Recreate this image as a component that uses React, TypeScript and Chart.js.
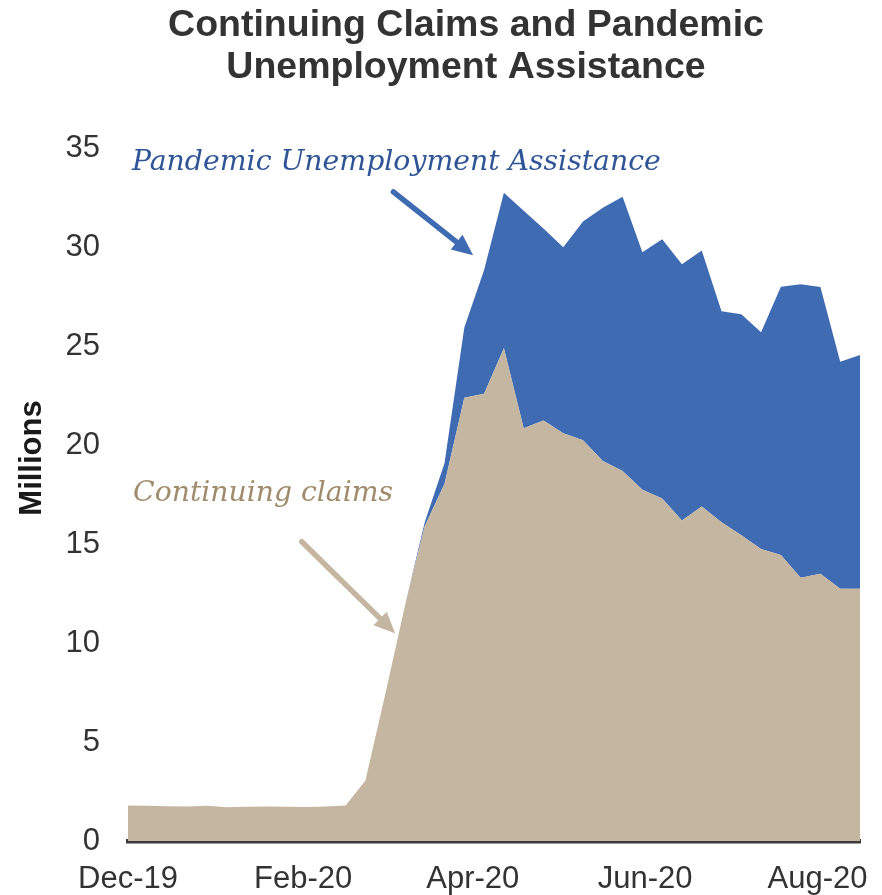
import React, { useEffect, useRef } from 'react';
import { Chart, registerables } from 'chart.js';

Chart.register(...registerables);

// ---- Data ----
const weekDates: string[] = [
  '2019-12-28', '2020-01-04', '2020-01-11', '2020-01-18', '2020-01-25',
  '2020-02-01', '2020-02-08', '2020-02-15', '2020-02-22', '2020-02-29',
  '2020-03-07', '2020-03-14', '2020-03-21', '2020-03-28', '2020-04-04',
  '2020-04-11', '2020-04-18', '2020-04-25', '2020-05-02', '2020-05-09',
  '2020-05-16', '2020-05-23', '2020-05-30', '2020-06-06', '2020-06-13',
  '2020-06-20', '2020-06-27', '2020-07-04', '2020-07-11', '2020-07-18',
  '2020-07-25', '2020-08-01', '2020-08-08', '2020-08-15', '2020-08-22',
  '2020-08-29', '2020-09-05', '2020-09-12',
];

// Continuing claims, millions
const continuingClaims: number[] = [
  1.8, 1.78, 1.76, 1.74, 1.78, 1.7, 1.73, 1.74, 1.73, 1.72,
  1.74, 1.8, 3.06, 7.4, 11.9, 15.9, 18.05, 22.4, 22.6, 24.9,
  20.85, 21.25, 20.6, 20.25, 19.2, 18.7, 17.75, 17.3, 16.2, 16.9,
  16.1, 15.45, 14.75, 14.45, 13.3, 13.5, 12.75, 12.75,
];

// Pandemic Unemployment Assistance, millions
const pandemicAssistance: number[] = [
  0, 0, 0, 0, 0, 0, 0, 0, 0, 0,
  0, 0, 0, 0, 0, 0.2, 1.05, 3.55, 6.25, 7.85,
  11.0, 9.7, 9.4, 11.05, 12.8, 13.85, 12.0, 13.1, 12.94, 12.94,
  10.67, 11.17, 10.95, 13.56, 14.83, 14.49, 11.47, 11.81,
];

const axisTickDates: string[] = ['2019-12-28', '2020-02-28', '2020-04-28', '2020-06-28', '2020-08-28'];
const axisTickLabels: string[] = ['Dec-19', 'Feb-20', 'Apr-20', 'Jun-20', 'Aug-20'];

const titleLines: string[] = ['Continuing Claims and Pandemic', 'Unemployment Assistance'];
const yAxisTitle = 'Millions';
const puaLabel = 'Pandemic Unemployment Assistance';
const ccLabel = 'Continuing claims';

// ---- Styles ----
const SANS = '"Liberation Sans", Arial, Helvetica, sans-serif';
const SERIF = '"DejaVu Serif", Georgia, serif';
const TAN = '#c5b6a1';
const BLUE = '#3f6bb3';
const TEXT = '#333333';

const DAY = 86400000;
const t0 = Date.parse(weekDates[0]);
const dayOffset = (d: string) => Math.round((Date.parse(d) - t0) / DAY);
const tickDays = axisTickDates.map(dayOffset);
const lastDay = dayOffset(weekDates[weekDates.length - 1]);

function drawArrow(ctx: CanvasRenderingContext2D, x1: number, y1: number, x2: number, y2: number, color: string) {
  const dx = x2 - x1;
  const dy = y2 - y1;
  const len = Math.hypot(dx, dy);
  const ux = dx / len;
  const uy = dy / len;
  const headLen = 21;
  const headHalf = 9.5;
  const bx = x2 - ux * headLen;
  const by = y2 - uy * headLen;
  ctx.save();
  ctx.strokeStyle = color;
  ctx.fillStyle = color;
  ctx.lineWidth = 5.5;
  ctx.lineCap = 'round';
  ctx.beginPath();
  ctx.moveTo(x1, y1);
  ctx.lineTo(bx + ux * 2, by + uy * 2);
  ctx.stroke();
  ctx.beginPath();
  ctx.moveTo(x2, y2);
  ctx.lineTo(bx - uy * headHalf, by + ux * headHalf);
  ctx.lineTo(bx + uy * headHalf, by - ux * headHalf);
  ctx.closePath();
  ctx.fill();
  ctx.restore();
}

function drawFittedText(ctx: CanvasRenderingContext2D, text: string, x: number, y: number, width: number, color: string) {
  ctx.save();
  ctx.font = `italic 30px ${SERIF}`;
  const w = ctx.measureText(text).width;
  const size = (30 * width) / w;
  ctx.font = `italic ${size.toFixed(2)}px ${SERIF}`;
  ctx.fillStyle = color;
  ctx.textAlign = 'left';
  ctx.textBaseline = 'alphabetic';
  ctx.fillText(text, x, y);
  ctx.restore();
}

const annotationPlugin = {
  id: 'customAnnotations',
  afterDraw(chart: any) {
    const { ctx } = chart;
    const xs = chart.scales.x;
    const ys = chart.scales.y;
    const px = (d: number) => xs.getPixelForValue(d);
    const py = (v: number) => ys.getPixelForValue(v);

    ctx.save();
    // Title
    ctx.fillStyle = '#333333';
    ctx.font = `bold 37.5px ${SANS}`;
    ctx.textAlign = 'center';
    ctx.textBaseline = 'alphabetic';
    ctx.fillText(titleLines[0], 466, 36);
    ctx.fillText(titleLines[1], 466, 78);

    // Y axis title
    ctx.save();
    ctx.translate(32, 458);
    ctx.rotate(-Math.PI / 2);
    ctx.font = `bold 31px ${SANS}`;
    ctx.fillStyle = '#1a1a1a';
    ctx.textAlign = 'center';
    ctx.textBaseline = 'middle';
    ctx.fillText(yAxisTitle, 0, 0);
    ctx.restore();

    // Annotation labels
    drawFittedText(ctx, puaLabel, px(1.4), py(33.9), 529, '#2f5597');
    drawFittedText(ctx, ccLabel, px(1.8), py(17.16), 260, '#a08b6c');

    // Arrows
    drawArrow(ctx, px(93.9), py(32.8), px(122.1), py(29.6), BLUE);
    drawArrow(ctx, px(61.5), py(15.12), px(94.5), py(10.5), TAN);
    ctx.restore();
  },
};

export default function App() {
  const canvasRef = useRef<HTMLCanvasElement | null>(null);

  useEffect(() => {
    const canvas = canvasRef.current;
    if (!canvas) return;
    const ccData = weekDates.map((d, i) => ({ x: dayOffset(d), y: continuingClaims[i] }));
    const puaData = weekDates.map((d, i) => ({ x: dayOffset(d), y: pandemicAssistance[i] }));

    const chart = new Chart(canvas, {
      type: 'line',
      data: {
        datasets: [
          {
            label: ccLabel,
            data: ccData,
            fill: 'origin',
            backgroundColor: TAN,
            borderColor: TAN,
            borderWidth: 0,
            pointRadius: 0,
            tension: 0,
          },
          {
            label: puaLabel,
            data: puaData,
            fill: '-1',
            backgroundColor: BLUE,
            borderColor: BLUE,
            borderWidth: 0,
            pointRadius: 0,
            tension: 0,
          },
        ],
      },
      options: {
        responsive: false,
        animation: false,
        devicePixelRatio: 1,
        layout: { padding: { top: 148.3, right: 22, bottom: 0, left: 0 } },
        plugins: {
          legend: { display: false },
          title: { display: false },
          tooltip: { enabled: false },
        },
        scales: {
          x: {
            type: 'linear',
            min: 0,
            max: lastDay,
            z: 1,
            grid: { display: false, drawTicks: false },
            border: { display: true, color: '#3a3a3a', width: 4.5 },
            ticks: {
              font: { family: SANS, size: 31 },
              color: TEXT,
              padding: 20,
              autoSkip: false,
              maxRotation: 0,
              callback: (v: any) => {
                const idx = tickDays.indexOf(Number(v));
                return idx >= 0 ? axisTickLabels[idx] : '';
              },
            },
            afterBuildTicks: (scale: any) => {
              scale.ticks = tickDays.map((v) => ({ value: v }));
            },
            afterFit: (scale: any) => {
              scale.height = 54;
              scale.paddingLeft = 0;
              scale.paddingRight = 0;
            },
          },
          y: {
            stacked: true,
            min: 0,
            max: 35,
            grid: { display: false, drawTicks: false },
            border: { display: false },
            ticks: {
              stepSize: 5,
              font: { family: SANS, size: 31 },
              color: TEXT,
              padding: 28,
            },
            afterFit: (scale: any) => {
              scale.width = 128;
              scale.paddingTop = 0;
              scale.paddingBottom = 0;
            },
          },
        },
      } as any,
      plugins: [annotationPlugin],
    });

    return () => chart.destroy();
  }, []);

  return (
    <div style={{ position: 'fixed', left: 0, top: 0, width: 882, height: 895, background: '#ffffff' }}>
      <canvas ref={canvasRef} width={882} height={895} style={{ display: 'block' }} />
    </div>
  );
}
